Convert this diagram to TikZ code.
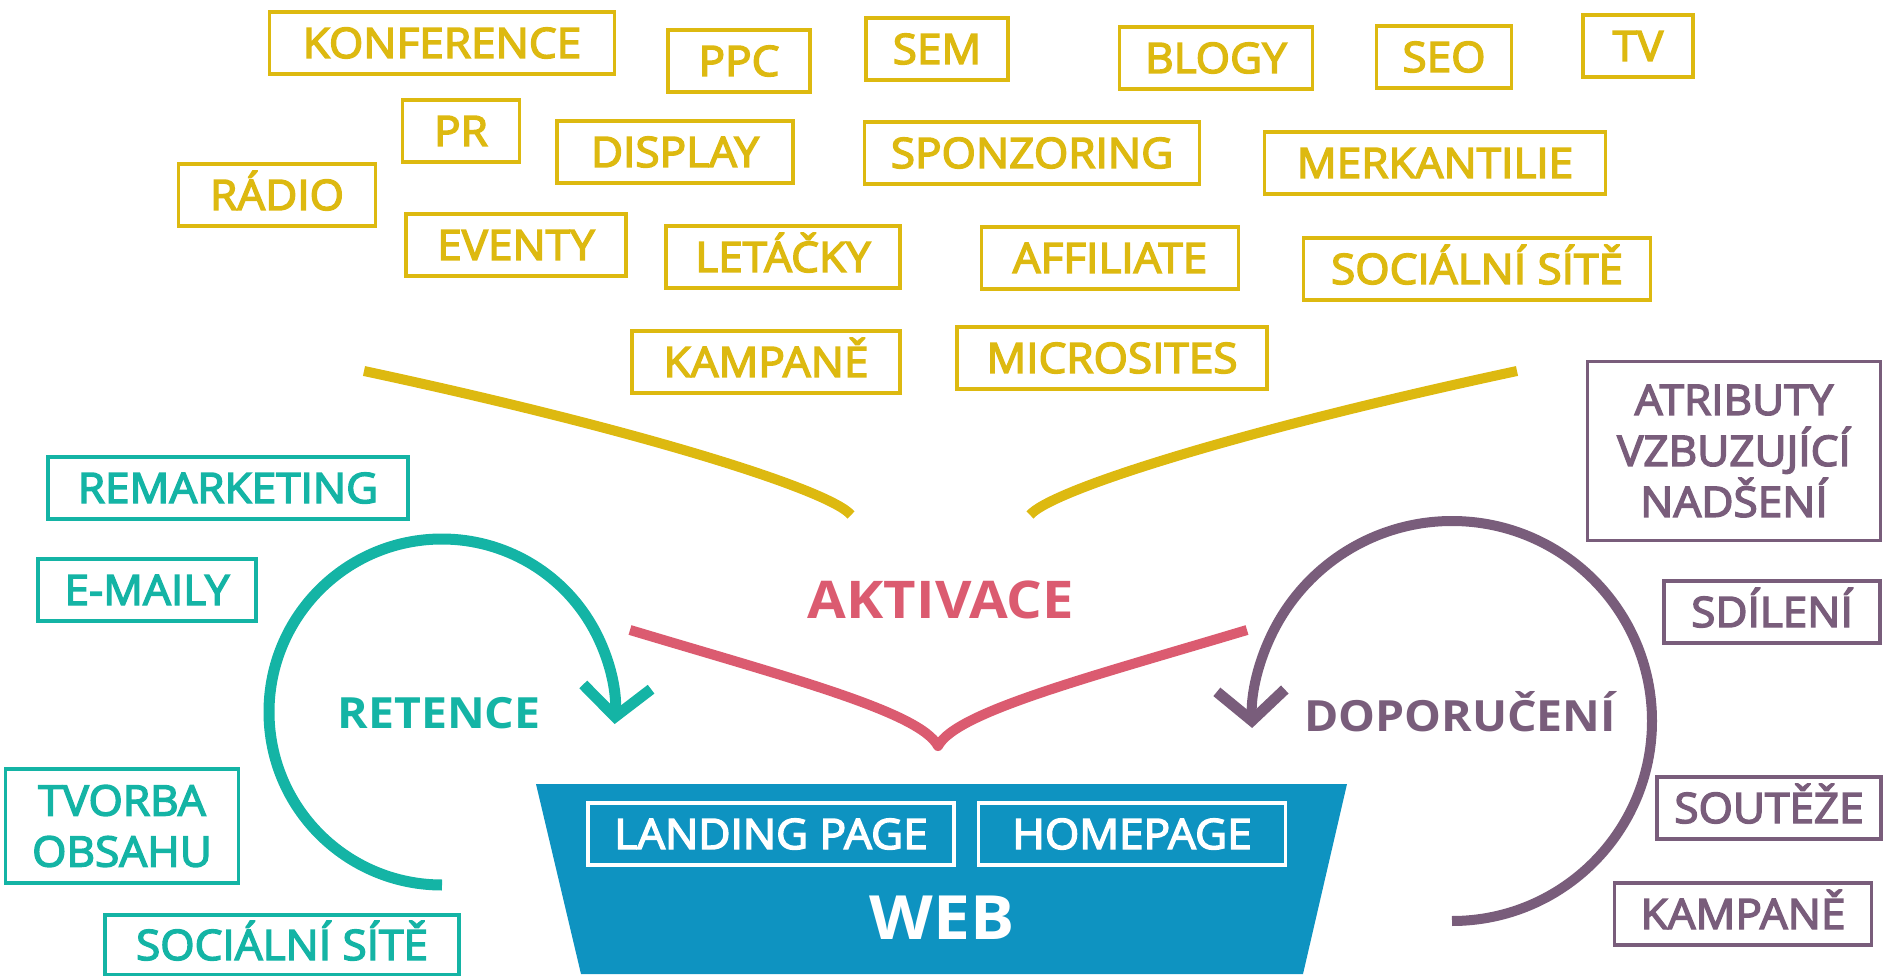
\documentclass[tikz,border=0pt]{standalone}
\usepackage{fontspec}
\setmainfont{Open Sans}[FakeStretch=1.08]
\newfontfamily\tagfont{Open Sans}[FakeStretch=1.05,FakeBold=3.5]
\usetikzlibrary{arrows.meta}
\definecolor{zluta}{RGB}{221,185,16}
\definecolor{tyrkys}{RGB}{20,180,165}
\definecolor{fialova}{RGB}{121,93,123}
\definecolor{ruzova}{RGB}{219,91,112}
\definecolor{modra}{RGB}{14,147,193}
\tikzset{
  tag/.style={draw,line width=3.4pt,inner sep=0pt,minimum height=62pt,
    font=\tagfont\fontsize{42}{51}\selectfont,text height=30pt,text depth=0pt},
  ytag/.style={tag,draw=zluta,text=zluta},
  ttag/.style={tag,draw=tyrkys,text=tyrkys},
  ftag/.style={tag,draw=fialova,text=fialova},
  wtag/.style={tag,draw=white,text=white},
  multi/.style={align=center,text height=,text depth=},
  title/.style={font=\bfseries\fontsize{43}{51}\selectfont,text height=31pt,text depth=0pt,inner sep=0pt},
  kolo/.style={line width=11pt,-{Straight Barb[length=30pt,width=68pt,line width=11pt,line cap=butt,line join=miter]}}
}
\begin{document}
\begin{tikzpicture}[x=1pt,y=-1pt]
\useasboundingbox (0,0) rectangle (1883,976);

% aktivace
\node[ytag,minimum width=345] (konf) at (442,43) {KONFERENCE};
\node[ytag,minimum width=142] (ppc) at (739,61) {PPC};
\node[ytag,minimum width=142] (sem) at (937,49) {SEM};
\node[ytag,minimum width=193] (blogy) at (1216,58) {BLOGY};
\node[ytag,minimum width=135] (seo) at (1444,57) {SEO};
\node[ytag,minimum width=110] (tv) at (1638,46) {TV};
\node[ytag,minimum width=117] (pr) at (461,131) {PR};
\node[ytag,minimum width=236] (disp) at (675,152) {DISPLAY};
\node[ytag,minimum width=335] (spon) at (1032,153) {SPONZORING};
\node[ytag,minimum width=341] (merk) at (1435,163) {MERKANTILIE};
\node[ytag,minimum width=197] (radio) at (277,195) {RÁDIO};
\node[ytag,minimum width=220] (event) at (516,245) {EVENTY};
\node[ytag,minimum width=234] (letak) at (783,257) {LETÁČKY};
\node[ytag,minimum width=257] (affil) at (1110,258) {AFFILIATE};
\node[ytag,minimum width=347] (socA) at (1477,269) {SOCIÁLNÍ SÍTĚ};
\node[ytag,minimum width=268] (kampA) at (766,362) {KAMPANĚ};
\node[ytag,minimum width=310] (micro) at (1112,358) {MICROSITES};

\draw[zluta,line width=10pt] (364,371) .. controls (640,430) and (830,490) .. (851,515);
\draw[zluta,line width=10pt] (1517,371) .. controls (1241,430) and (1051,490) .. (1030,515);

\node[title,font=\bfseries\fontsize{52}{60}\selectfont,text height=37pt,text=ruzova] (akt) at (941,600) {AKTIVACE};
\draw[ruzova,line width=10pt,line join=round] (630,630) .. controls (790,678) and (920,712) .. (938,746)
  .. controls (956,712) and (1087,678) .. (1247,630);

% web
\fill[modra] (536,784) -- (1347,784) -- (1303,974) -- (581,974) -- cycle;
\node[wtag,minimum width=366] (land) at (771,834) {LANDING PAGE};
\node[wtag,minimum width=307] (home) at (1132,834) {HOMEPAGE};
\node[title,font=\bfseries\fontsize{61}{70}\selectfont,text height=44pt,text=white] (web) at (942,917) {WEB};

% retence
\node[ttag,minimum width=360] (remark) at (228,488) {REMARKETING};
\node[ttag,minimum width=218] (mail) at (147,590) {E-MAILY};
\node[ttag,multi,minimum width=233,minimum height=114] (obsah) at (122,826) {TVORBA\\OBSAHU};
\node[ttag,minimum width=354,minimum height=60] (socB) at (282,945) {SOCIÁLNÍ SÍTĚ};
\draw[kolo,tyrkys] (442,885) arc[start angle=90,end angle=364,radius=173];
\node[title,text=tyrkys] (ret) at (439,713) {RETENCE};

% doporuceni
\node[ftag,multi,minimum width=293,minimum height=179] (atrib) at (1734,451) {ATRIBUTY\\VZBUZUJÍCÍ\\NADŠENÍ};
\node[ftag,minimum width=216] (sdil) at (1772,612) {SDÍLENÍ};
\node[ftag,minimum width=224] (sout) at (1769,808) {SOUTĚŽE};
\node[ftag,minimum width=257] (kampB) at (1743,914) {KAMPANĚ};
\draw[kolo,fialova,line width=10pt] (1452,921) arc[start angle=90,end angle=-182,radius=200];
\node[title,text=fialova] (dop) at (1460,716) {DOPORUČENÍ};
\end{tikzpicture}
\end{document}
